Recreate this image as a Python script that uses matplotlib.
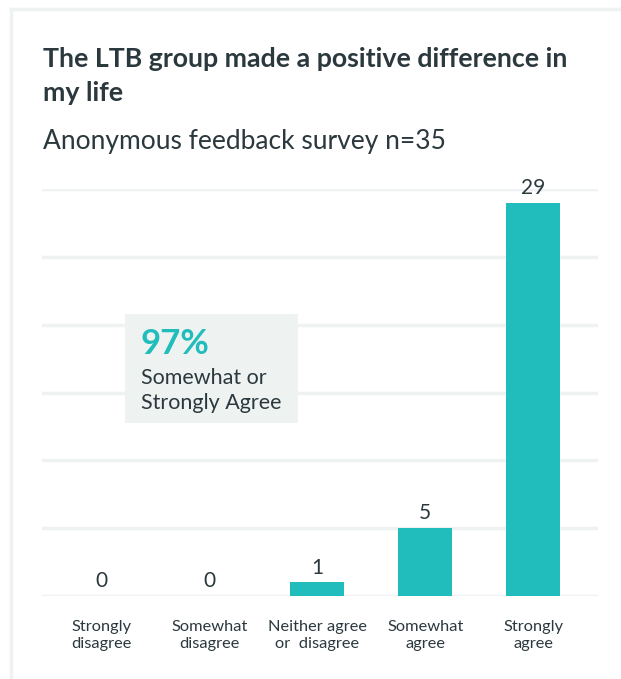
import matplotlib
matplotlib.use("Agg")
import matplotlib.pyplot as plt
from matplotlib.patches import Rectangle
from matplotlib.lines import Line2D

categories = ["Strongly\ndisagree", "Somewhat\ndisagree", "Neither agree\nor  disagree", "Somewhat\nagree", "Strongly\nagree"]
values = [0, 0, 1, 5, 29]
title_lines = ["The LTB group made a positive difference in", "my life"]
subtitle = "Anonymous feedback survey n=35"
callout_pct = "97%"
callout_lines = ["Somewhat or", "Strongly Agree"]

TEAL = "#20bdbc"
TEXT = "#2b383d"
GRID = "#eef2f2"
FONT = ["Lato", "DejaVu Sans"]
plt.rcParams['font.family'] = FONT

W, H = 621, 679
fig = plt.figure(figsize=(W/100, H/100), dpi=100)
fig.patch.set_facecolor("white")

# card border
fig.add_artist(Line2D([11/W, 11/W], [0, 1 - 9/H], color=GRID, lw=2.5, transform=fig.transFigure))
fig.add_artist(Line2D([11/W, 1], [1 - 9/H, 1 - 9/H], color=GRID, lw=2.5, transform=fig.transFigure))

for line, yb in zip(title_lines, [67, 101]):
    fig.text(43/W, 1 - yb/H, line, fontsize=19.3, fontweight="bold", color=TEXT, va="baseline")
fig.text(43/W, 1 - 149/H, subtitle, fontsize=19, color=TEXT, va="baseline")

ax_left, ax_right = 42/W, 598/W
y0, y30 = 596, 189
ax = fig.add_axes([ax_left, 1 - y0/H, ax_right - ax_left, (y0 - y30)/H])
x = list(range(len(values)))
ax.bar(x, values, width=0.5, color=TEAL, zorder=3)
ax.set_xlim(-0.55, 4.6)
ax.set_ylim(0, 30)
ax.set_yticks([0, 5, 10, 15, 20, 25, 30])
ax.grid(axis="y", color=GRID, lw=2.5, zorder=0)
ax.set_yticklabels([])
ax.tick_params(axis="both", length=0)
ax.set_xticks(x)
ax.set_xticklabels(categories, fontsize=11.8, color=TEXT, linespacing=1.3)
ax.tick_params(axis="x", pad=17)
for s in ax.spines.values():
    s.set_visible(False)
for xi, v in zip(x, values):
    ax.text(xi, v + 0.35, str(v), ha="center", va="bottom", fontsize=15, color=TEXT, zorder=4)

# callout box
bx0, bx1, by0, by1 = 125, 298, 314, 423
fig.add_artist(Rectangle((bx0/W, 1 - by1/H), (bx1 - bx0)/W, (by1 - by0)/H,
                         transform=fig.transFigure, facecolor="#eef3f2", edgecolor="none", zorder=5))
fig.text(141/W, 1 - 354/H, callout_pct, fontsize=25, fontweight="bold", color=TEAL, va="baseline", zorder=6)
for line, yb in zip(callout_lines, [384, 409]):
    fig.text(141/W, 1 - yb/H, line, fontsize=15.5, color=TEXT, va="baseline", zorder=6)

fig.savefig("out.png", dpi=100, facecolor="white")
